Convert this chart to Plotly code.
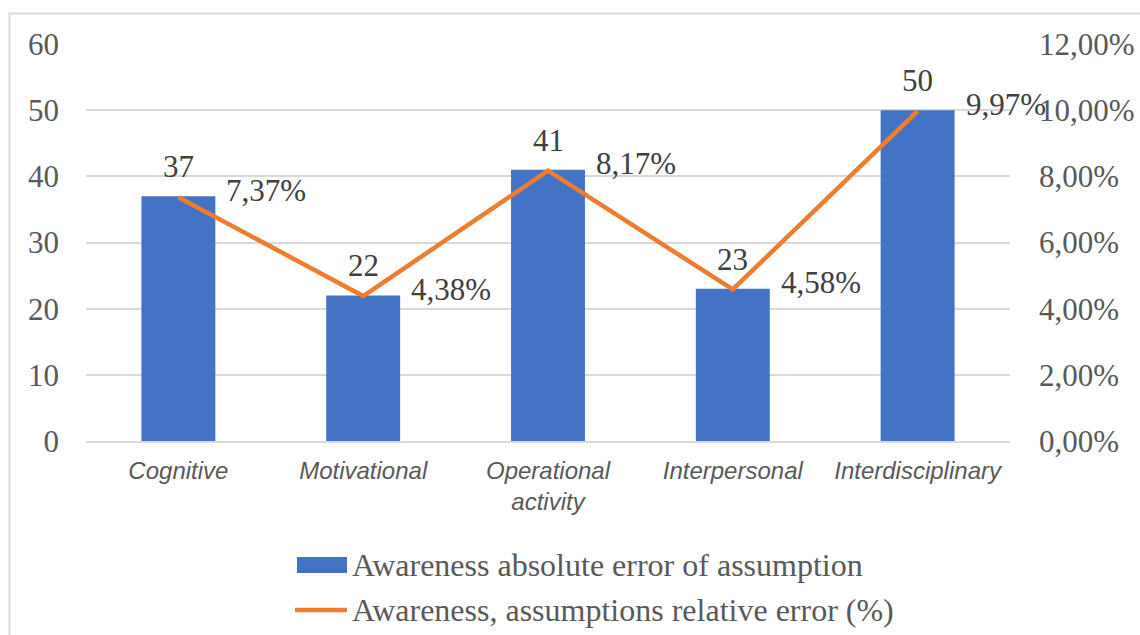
import plotly.graph_objects as go

# Data
categories = ["Cognitive", "Motivational", "Operational<br>activity", "Interpersonal", "Interdisciplinary"]
absolute_error = [37, 22, 41, 23, 50]
relative_error_pct = [7.37, 4.38, 8.17, 4.58, 9.97]
left_ticks = [0, 10, 20, 30, 40, 50, 60]
right_ticks = [0, 2, 4, 6, 8, 10, 12]

bar_name = "Awareness absolute error of assumption"
line_name = "Awareness, assumptions relative error (%)"

BLUE = "#4472C4"
ORANGE = "#ED7D31"
GRID = "#D9D9D9"
TEXT = "#595959"
SERIF = "Liberation Serif, Times New Roman, serif"
SANS = "Liberation Sans, Arial, sans-serif"

W, H = 1140, 635
ML, MR, MT, MB = 86, 130, 44, 194
PW, PH = W - ML - MR, H - MT - MB


def px(x):
    return (x - ML) / PW


def py(y):
    return (H - MB - y) / PH


def pct(v):
    return f"{v:.2f}".replace(".", ",") + "%"


fig = go.Figure()
fig.add_trace(go.Bar(
    x=categories, y=absolute_error, name=bar_name,
    marker=dict(color=BLUE, line=dict(width=0)), width=0.4,
    yaxis="y", showlegend=False,
))
fig.add_trace(go.Scatter(
    x=categories, y=relative_error_pct, name=line_name,
    mode="lines", line=dict(color=ORANGE, width=4.5),
    yaxis="y2", showlegend=False,
))

annotations = []
for c, v in zip(categories, absolute_error):
    annotations.append(dict(
        x=c, y=v, xref="x", yref="y", text=str(v), showarrow=False,
        xanchor="center", yanchor="bottom", yshift=10,
        font=dict(family=SERIF, size=31, color="#404040"),
    ))
for c, v in zip(categories, relative_error_pct):
    annotations.append(dict(
        x=c, y=v, xref="x", yref="y2", text=pct(v),
        showarrow=False, xanchor="left", yanchor="middle", xshift=46, yshift=7,
        font=dict(family=SERIF, size=31, color="#404040"),
    ))

# Legend drawn below the plot
leg_rows = [(565, bar_name), (610, line_name)]
for y, name in leg_rows:
    annotations.append(dict(
        x=px(350), y=py(y), xref="paper", yref="paper", text=name,
        showarrow=False, xanchor="left", yanchor="middle",
        font=dict(family=SERIF, size=32, color=TEXT),
    ))

shapes = [
    # chart frame
    dict(type="rect", xref="paper", yref="paper",
         x0=px(9.5), x1=px(1160), y0=py(13.5), y1=py(660),
         line=dict(color=GRID, width=2), fillcolor="rgba(0,0,0,0)", layer="below"),
    # legend swatches
    dict(type="rect", xref="paper", yref="paper",
         x0=px(297), x1=px(347), y0=py(557), y1=py(573),
         line=dict(width=0), fillcolor=BLUE),
    dict(type="line", xref="paper", yref="paper",
         x0=px(295), x1=px(347), y0=py(610), y1=py(610),
         line=dict(color=ORANGE, width=4.5)),
]

fig.update_layout(
    width=W, height=H,
    margin=dict(l=ML, r=MR, t=MT, b=MB, autoexpand=False),
    paper_bgcolor="white", plot_bgcolor="white",
    bargap=0.6,
    xaxis=dict(
        type="category", range=[-0.5, len(categories) - 0.5], autorange=False,
        automargin=False,
        showgrid=False, showline=True, linecolor=GRID, linewidth=2,
        ticks="", tickfont=dict(family=SANS, size=24, color=TEXT, style="italic"),
        ticklabelstandoff=7,
    ),
    yaxis=dict(
        range=[0, 60], tickvals=left_ticks, showgrid=True, gridcolor=GRID, gridwidth=2,
        zeroline=False, showline=False, ticks="", automargin=False,
        tickfont=dict(family=SERIF, size=31, color=TEXT), ticklabelstandoff=26,
    ),
    yaxis2=dict(
        range=[0, 12], tickvals=right_ticks, ticktext=[pct(t) for t in right_ticks],
        overlaying="y", side="right", automargin=False,
        showgrid=False, zeroline=False, showline=False, ticks="",
        tickfont=dict(family=SERIF, size=31, color=TEXT), ticklabelstandoff=28,
    ),
    annotations=annotations,
    shapes=shapes,
)

fig.write_html("out.html")
